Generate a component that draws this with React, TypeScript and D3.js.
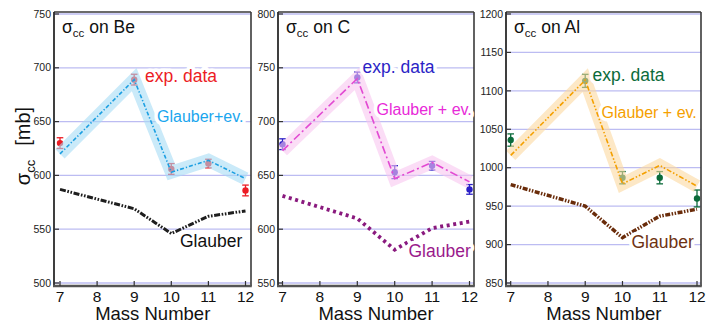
import React from "react";
import * as d3 from "d3";

// ---------- data ----------
const massTicks = [7, 8, 9, 10, 11, 12];
const dataMass = [7, 9, 10, 11, 12];

const beTicks = [500, 550, 600, 650, 700, 750];
const beExp = [630, 689, 606, 611, 586];
const beErr = [5, 5, 5, 4, 5];
const beGlauberEv = [620, 689, 603, 614, 597];
const beGlauber = [587, 569, 546, 562, 567];

const cTicks = [550, 600, 650, 700, 750, 800];
const cExp = [679, 741, 653, 659, 637];
const cErr = [5, 5, 6, 4, 4.5];
const cGlauberEv = [673, 740, 647, 662, 644];
const cGlauber = [631, 610, 581, 601, 607];

const alTicks = [850, 900, 950, 1000, 1050, 1100, 1150, 1200];
const alExp = [1036, 1113, 987, 987, 960];
const alErr = [8, 8.5, 8, 8, 11];
const alGlauberEv = [1016, 1114, 979, 1003, 976];
const alGlauber = [978, 950, 909, 937, 946];

const targets = ["Be", "C", "Al"];
const expLabel = "exp. data";
const glauberLabel = "Glauber";
const evLabels = ["Glauber+ev.", "Glauber + ev.", "Glauber + ev."];
const xLabel = "Mass Number";

// ---------- layout ----------
const W = 709;
const H = 323;
const TOP = 12;
const BOTTOM = 286;
const FONT = "'Liberation Sans', Arial, Helvetica, sans-serif";

const panels = [
  {
    target: targets[0], left: 54, right: 251, padL: 6, padR: 5.5,
    ticks: beTicks, exp: beExp, err: beErr, ev: beGlauberEv, gl: beGlauber,
    evLabel: evLabels[0],
    expColor: "#ec1c24", bandColor: "#a6dcf5", lineColor: "#1b9fe2", evTextColor: "#1aa6ee",
    glColor: "#1e1e1e", glText: "#111", glDash: "6,1.6,1.6,1.6,1.6,1.6", glWidth: 3,
    lineDash: "4,2,1.3,2",
    expPos: [145, 82], evPos: [157, 122], glPos: [180, 247],
  },
  {
    target: targets[1], left: 278, right: 474, padL: 4.5, padR: 4.5,
    ticks: cTicks, exp: cExp, err: cErr, ev: cGlauberEv, gl: cGlauber,
    evLabel: evLabels[1],
    expColor: "#2b1fc6", bandColor: "#f8c6f0", lineColor: "#e24ad2", evTextColor: "#e82ad8",
    glColor: "#8a1a7e", glText: "#9a1a8c", glDash: "3,3.6", glWidth: 3.8,
    lineDash: "8,3,2,3",
    expPos: [362.5, 73], evPos: [376.5, 115], glPos: [408.5, 257],
  },
  {
    target: targets[2], left: 506, right: 701, padL: 4.7, padR: 4,
    ticks: alTicks, exp: alExp, err: alErr, ev: alGlauberEv, gl: alGlauber,
    evLabel: evLabels[2],
    expColor: "#0b6b3a", bandColor: "#fcd9a0", lineColor: "#f4a000", evTextColor: "#f5a000",
    glColor: "#6a2c0a", glText: "#6e3212", glDash: "5,1.5,1.5,1.5,1.5,1.5", glWidth: 3.5,
    lineDash: "5,2,1.5,2,1.5,2",
    expPos: [592.5, 81], evPos: [601.5, 118], glPos: [631.5, 248],
  },
];

function Panel({ p, showYLabel }: { p: any; showYLabel: boolean }) {
  const x = d3.scaleLinear().domain([7, 12]).range([p.left + p.padL, p.right - p.padR]);
  const y = d3
    .scaleLinear()
    .domain([p.ticks[0], p.ticks[p.ticks.length - 1]])
    .range([283, 14]);
  const line = d3
    .line<number>()
    .x((_, i) => x(dataMass[i]))
    .y((d) => y(d));
  const cx = (x(7) + x(12)) / 2;
  const halo = {
    stroke: "#fff",
    strokeWidth: 7,
    strokeLinejoin: "round" as const,
    paintOrder: "stroke" as const,
  };
  return (
    <g>
      {/* gridlines */}
      {p.ticks.map((t: number) => (
        <line key={"g" + t} x1={p.left} x2={p.right} y1={y(t)} y2={y(t)} stroke="#bcbcf2" strokeWidth={1.3} />
      ))}
      {/* Glauber */}
      <path d={line(p.gl) || ""} fill="none" stroke={p.glColor} strokeWidth={p.glWidth} strokeDasharray={p.glDash} />
      {/* exp data */}
      {p.exp.map((v: number, i: number) => {
        const xx = x(dataMass[i]);
        return (
          <g key={"e" + i} stroke={p.expColor} strokeWidth={1.3}>
            <line x1={xx} x2={xx} y1={y(v - p.err[i])} y2={y(v + p.err[i])} />
            <line x1={xx - 3.3} x2={xx + 3.3} y1={y(v - p.err[i])} y2={y(v - p.err[i])} />
            <line x1={xx - 3.3} x2={xx + 3.3} y1={y(v + p.err[i])} y2={y(v + p.err[i])} />
            <circle cx={xx} cy={y(v)} r={3.2} fill={p.expColor} stroke="none" />
          </g>
        );
      })}
      {/* band */}
      <path
        d={line(p.ev) || ""}
        fill="none"
        stroke={p.bandColor}
        strokeWidth={13}
        strokeLinejoin="miter"
        strokeMiterlimit={10}
        opacity={0.6}
      />
      <path d={line(p.ev) || ""} fill="none" stroke={p.lineColor} strokeWidth={1.6} strokeDasharray={p.lineDash} />
      {/* frame */}
      <line x1={p.left} x2={p.right} y1={TOP} y2={TOP} stroke="#3a3a3a" strokeWidth={1.6} />
      <line x1={p.right} x2={p.right} y1={TOP} y2={BOTTOM} stroke="#3a3a3a" strokeWidth={1.6} />
      <line x1={p.left} x2={p.left} y1={TOP} y2={BOTTOM} stroke="#2a2a2a" strokeWidth={1.8} />
      <line x1={p.left - 1} x2={p.right + 0.8} y1={BOTTOM} y2={BOTTOM} stroke="#555" strokeWidth={2.6} />
      {/* y ticks */}
      {p.ticks.map((t: number) => (
        <g key={"t" + t}>
          <line x1={p.left} x2={p.left + 5} y1={y(t)} y2={y(t)} stroke="#333" strokeWidth={1.2} />
          <text
            x={p.left - 3}
            y={y(t)}
            dy="0.35em"
            textAnchor="end"
            fontSize={10.5}
            fontFamily={FONT}
            fill="#222"
          >
            {t}
          </text>
        </g>
      ))}
      {/* x ticks */}
      {massTicks.map((m) => (
        <g key={"x" + m}>
          <line x1={x(m)} x2={x(m)} y1={BOTTOM} y2={BOTTOM - 5} stroke="#333" strokeWidth={1.2} />
          <text x={x(m)} y={301.5} textAnchor="middle" fontSize={15.5} fontFamily={FONT} fill="#111">
            {m}
          </text>
        </g>
      ))}
      <text x={cx} y={320} textAnchor="middle" fontSize={18.5} fontFamily={FONT} fill="#111">
        {xLabel}
      </text>
      {/* title */}
      <text x={p.left + 8} y={33} fontSize={17.5} fontFamily={FONT} fill="#111">
        σ<tspan fontSize={11.5} dy={4}>cc</tspan>
        <tspan dy={-4}> on {p.target}</tspan>
      </text>
      {/* labels */}
      <text x={p.expPos[0]} y={p.expPos[1]} fontSize={17.5} fontFamily={FONT} fill={p.expColor} style={halo}>
        {expLabel}
      </text>
      <text x={p.evPos[0]} y={p.evPos[1]} fontSize={16} fontFamily={FONT} fill={p.evTextColor} style={halo}>
        {p.evLabel}
      </text>
      <text x={p.glPos[0]} y={p.glPos[1]} fontSize={17.5} fontFamily={FONT} fill={p.glText} style={halo}>
        {glauberLabel}
      </text>
      {showYLabel && (
        <text
          transform="translate(30,146) rotate(-90)"
          textAnchor="middle"
          fontSize={20}
          fontFamily={FONT}
          fill="#111"
        >
          σ<tspan fontSize={13} dy={5}>cc</tspan>
          <tspan dy={-5} dx={14}>[mb]</tspan>
        </text>
      )}
    </g>
  );
}

export default function App() {
  return (
    <svg
      width={W}
      height={H}
      viewBox={`0 0 ${W} ${H}`}
      style={{ position: "absolute", left: 0, top: 0, background: "#fff" }}
    >
      <rect x={0} y={0} width={W} height={H} fill="#fff" />
      {panels.map((p, i) => (
        <Panel key={i} p={p} showYLabel={i === 0} />
      ))}
    </svg>
  );
}
